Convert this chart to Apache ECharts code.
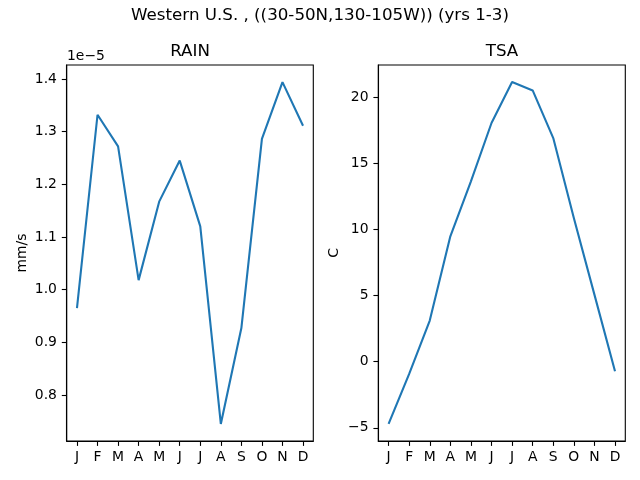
<!DOCTYPE html>
<html>
<head>
<meta charset="utf-8">
<script src="https://cdn.jsdelivr.net/npm/echarts@6/dist/echarts.min.js"></script>
<style>
  html, body { margin: 0; padding: 0; background: #fff; }
  #chart { width: 640px; height: 480px; }
</style>
</head>
<body>
<div id="chart"></div>
<script>
// monthly means, Western U.S. (30-50N,130-105W), yrs 1-3
var months = ['J', 'F', 'M', 'A', 'M', 'J', 'J', 'A', 'S', 'O', 'N', 'D'];
// RAIN in units of 1e-5 mm/s
var rain = [0.965, 1.332, 1.272, 1.018, 1.167, 1.245, 1.120, 0.745, 0.927, 1.286, 1.394, 1.311];
// TSA in C
var tsa = [-4.70, -0.92, 3.11, 9.48, 13.63, 18.04, 21.13, 20.50, 16.90, 10.86, 5.07, -0.72];
var rainTicks = [0.8, 0.9, 1.0, 1.1, 1.2, 1.3, 1.4];
var tsaTicks = [-5, 0, 5, 10, 15, 20];

var font = '"DejaVu Sans", sans-serif';
var blue = '#1f77b4';

function pad(arr) {
    var lo = Math.min.apply(null, arr), hi = Math.max.apply(null, arr);
    var m = (hi - lo) * 0.05;
    return [lo - m, hi + m];
}

function xAxisFor(idx) {
    return {
        type: 'category',
        gridIndex: idx,
        data: months,
        boundaryGap: true,
        axisLine: { show: true, onZero: false, lineStyle: { color: '#000', width: 1.1 } },
        axisTick: { show: true, alignWithLabel: true, interval: 0, length: 4.9, lineStyle: { color: '#000', width: 1.1 } },
        axisLabel: { interval: 0, margin: 9.8, color: '#000', fontSize: 13.9, fontFamily: font },
        splitLine: { show: false }
    };
}

function yAxisFor(idx, ext, ticks, name, fmt) {
    return {
        type: 'value',
        gridIndex: idx,
        min: ext[0],
        max: ext[1],
        name: name,
        nameLocation: 'middle',
        nameRotate: 90,
        nameGap: 37,
        nameTextStyle: { color: '#000', fontSize: 13.9, fontFamily: font },
        axisLine: { show: true, onZero: false, lineStyle: { color: '#000', width: 1.1 } },
        axisTick: { show: true, length: 4.9, customValues: ticks, lineStyle: { color: '#000', width: 1.1 } },
        axisLabel: { margin: 9.8, color: '#000', fontSize: 13.9, fontFamily: font, customValues: ticks, formatter: fmt },
        splitLine: { show: false }
    };
}

var myChart = echarts.init(document.getElementById('chart'), null, { renderer: 'canvas' });
var option = {
    animation: false,
    backgroundColor: '#fff',
    title: [
        {
            text: 'Western U.S. , ((30-50N,130-105W)) (yrs 1-3)',
            left: 320, top: 16, padding: 0,
            textAlign: 'center', textVerticalAlign: 'middle',
            textStyle: { color: '#000', fontSize: 16.7, fontWeight: 'normal', fontFamily: font }
        },
        {
            text: 'RAIN',
            left: 190, top: 52, padding: 0,
            textAlign: 'center', textVerticalAlign: 'middle',
            textStyle: { color: '#000', fontSize: 16.7, fontWeight: 'normal', fontFamily: font }
        },
        {
            text: 'TSA',
            left: 502, top: 52, padding: 0,
            textAlign: 'center', textVerticalAlign: 'middle',
            textStyle: { color: '#000', fontSize: 16.7, fontWeight: 'normal', fontFamily: font }
        },
        {
            text: '1e\u22125',
            left: 67, top: 56, padding: 0,
            textAlign: 'left', textVerticalAlign: 'middle',
            textStyle: { color: '#000', fontSize: 13.9, fontWeight: 'normal', fontFamily: font }
        }
    ],
    grid: [
        { left: 66.7, right: 326.7, top: 65, bottom: 39, show: true, borderColor: '#000', borderWidth: 1.1, backgroundColor: 'transparent' },
        { left: 378.3, right: 14.7, top: 65, bottom: 39, show: true, borderColor: '#000', borderWidth: 1.1, backgroundColor: 'transparent' }
    ],
    xAxis: [xAxisFor(0), xAxisFor(1)],
    yAxis: [
        yAxisFor(0, pad(rain), rainTicks, 'mm/s', function (v) { return v.toFixed(1); }),
        yAxisFor(1, pad(tsa), tsaTicks, 'C', function (v) { return v < 0 ? '\u2212' + Math.abs(v) : String(v); })
    ],
    series: []
};
option.series.push({
    name: 'RAIN',
    type: 'line',
    xAxisIndex: 0,
    yAxisIndex: 0,
    showSymbol: false,
    symbol: 'none',
    lineStyle: { color: blue, width: 2.1 },
    data: rain
});
option.series.push({
    name: 'TSA',
    type: 'line',
    xAxisIndex: 1,
    yAxisIndex: 1,
    showSymbol: false,
    symbol: 'none',
    lineStyle: { color: blue, width: 2.1 },
    data: tsa
});
myChart.setOption(option);
</script>
</body>
</html>
